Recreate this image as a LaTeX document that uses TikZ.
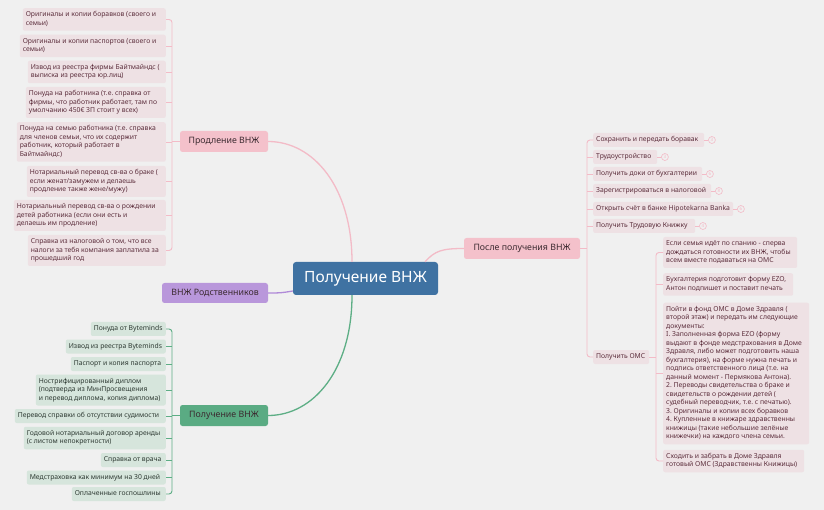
\documentclass[tikz,border=0pt]{standalone}
\usepackage{fontspec}
\setmainfont{Noto Sans}
\frenchspacing
\newcommand{\cbox}[2]{\makebox[#1][l]{\begin{tabular}{@{}l@{}}#2\end{tabular}}}
\definecolor{bgc}{HTML}{F0F0F0}
\definecolor{pline}{HTML}{F3BBC7}
\definecolor{pfill}{HTML}{F4C1CB}
\definecolor{pchildfill}{HTML}{EEE1E4}
\definecolor{ptext}{HTML}{5C2E3C}
\definecolor{partext}{HTML}{3B2A30}
\definecolor{gline}{HTML}{5DAE85}
\definecolor{gfill}{HTML}{5AAB83}
\definecolor{gchildfill}{HTML}{D6E5DC}
\definecolor{gtext}{HTML}{2E3A33}
\definecolor{vline}{HTML}{B08AD8}
\definecolor{vfill}{HTML}{B997DB}
\definecolor{cfill}{HTML}{3F72A2}
\tikzset{
  x=1pt, y=-1pt,
  childbase/.style={rounded corners=2pt, inner xsep=3pt, inner ysep=2.75pt, font=\frenchspacing\fontsize{6.8}{8.5}\selectfont},
  pchild/.style={childbase, fill=pchildfill, text=ptext, anchor=east},
  rchild/.style={childbase, fill=pchildfill, text=ptext, anchor=west},
  gchild/.style={childbase, fill=gchildfill, text=gtext, anchor=east},
  parent/.style={rounded corners=2.5pt, inner sep=0pt, minimum height=21pt, text=partext, font=\fontsize{8.8}{10}\selectfont},
  central/.style={rounded corners=3pt, fill=cfill, text=white, inner sep=0pt, minimum width=145pt, minimum height=33pt, font=\fontsize{15.5}{18}\selectfont},
  pconn/.style={draw=pline, line width=0.9pt},
  gconn/.style={draw=gline, line width=0.9pt},
  bigconn/.style={line width=1.3pt},
  badge/.style={circle, draw=pline, line width=0.6pt, inner sep=0pt, minimum size=7pt, text=pline, font=\fontsize{4.5}{5}\selectfont},
}
\begin{document}
\begin{tikzpicture}
\useasboundingbox (0,0) rectangle (824,510);
\fill[bgc] (0,0) rectangle (824,510);

% central
\node[central] (c) at (365.5,278.5) {Получение ВНЖ};

% parents
\node[parent, fill=pfill, minimum width=88pt] (prod) at (224,141.5) {Продление ВНЖ};
\node[parent, fill=vfill, minimum width=106pt, minimum height=20pt] (rel) at (215,293) {ВНЖ Родственников};
\node[parent, fill=gfill, minimum width=88pt] (gpar) at (224,415.5) {Получение ВНЖ};
\node[parent, fill=pfill, minimum width=116pt] (after) at (522,248.5) {После получения ВНЖ};

% main connectors
\draw[draw=pline, bigconn] ([xshift=-13.5]c.north) .. controls +(0,-75) and +(45,0) .. (prod.east);
\draw[draw=pline, bigconn] ([xshift=59.5]c.north) .. controls +(10,-11) and +(-22,0) .. (after.west);
\draw[draw=gline, bigconn] ([xshift=-13.5]c.south) .. controls +(0,75) and +(45,0) .. (gpar.east);
\draw[draw=vline, bigconn] (rel.east) .. controls +(12,0) and +(-12,2) .. ([yshift=-12.5]c.west);

% left pink children
\node[pchild] (p1) at (166,19.5) {\cbox{137pt}{Оригиналы и копии боравков (своего и\\семьи)}};
\node[pchild] (p2) at (166,46) {\cbox{140pt}{Оригиналы и копии паспортов (своего и\\семьи)}};
\node[pchild] (p3) at (166,72) {\cbox{132pt}{Извод из реестра фирмы Байтмайндс (\\выписка из реестра юр.лиц)}};
\node[pchild] (p4) at (166,102.5) {\cbox{134pt}{Понуда на работника (т.е. справка от\\фирмы, что работник работает, там по\\умолчанию 450€ ЗП стоит у всех)}};
\node[pchild] (p5) at (166,142) {\cbox{143pt}{Понуда на семью работника (т.е. справка\\для членов семьи, что их содержит\\работник, который работает в\\Байтмайндс)}};
\node[pchild] (p6) at (166,181.5) {\cbox{133pt}{Нотариальный перевод св-ва о браке (\\если женат/замужем и делаешь\\продление также жене/мужу)}};
\node[pchild] (p7) at (166,215.5) {\cbox{146pt}{Нотариальный перевод св-ва о рождении\\детей работника (если они есть и\\делаешь им продление)}};
\node[pchild] (p8) at (166,250.5) {\cbox{132pt}{Справка из налоговой о том, что все\\налоги за тебя компания заплатила за\\прошедший год}};

\coordinate (pb) at (172,141.5);
\draw[pconn, rounded corners=3pt] (p1.east) -| (pb) |- (p8.east);
\draw[pconn] (pb) -- (prod.west);
\foreach \n in {p2,p3,p4,p5,p6,p7} \draw[pconn] (\n.east) -- (\n.east -| pb);

% green children
\node[gchild] (g1) at (166,329) {\cbox{69pt}{Понуда от Byteminds}};
\node[gchild] (g2) at (166,346.5) {\cbox{94pt}{Извод из реестра Byteminds}};
\node[gchild] (g3) at (166,364) {\cbox{89pt}{Паспорт и копия паспорта}};
\node[gchild] (g4) at (166,390) {\cbox{124pt}{Нострифицированный диплом\\(подтверда из МинПросвещения\\и перевод диплома, копия диплома)}};
\node[gchild] (g5) at (166,416) {\cbox{145pt}{Перевод справки об отсутствии судимости}};
\node[gchild] (g6) at (166,438) {\cbox{136pt}{Годовой нотариальный договор аренды\\(с листом непокретности)}};
\node[gchild] (g7) at (166,460) {\cbox{59pt}{Справка от врача}};
\node[gchild] (g8) at (166,477.5) {\cbox{133pt}{Медстраховка как минимум на 30 дней}};
\node[gchild] (g9) at (166,494) {\cbox{88pt}{Оплаченные госпошлины}};

\coordinate (gb) at (172,415.5);
\draw[gconn, rounded corners=3pt] (g1.east) -| (gb) |- (g9.east);
\draw[gconn] (gb) -- (gpar.west);
\foreach \n in {g2,g3,g4,g5,g6,g7,g8} \draw[gconn] (\n.east) -- (\n.east -| gb);

% right children
\node[rchild] (r1) at (593,140) {\cbox{105pt}{Сохранить и передать боравак}};
\node[rchild] (r2) at (593,157) {\cbox{58pt}{Трудоустройство}};
\node[rchild] (r3) at (593,174) {\cbox{103pt}{Получить доки от бухгалтерии}};
\node[rchild] (r4) at (593,191) {\cbox{112pt}{Зарегистрироваться в налоговой}};
\node[rchild] (r5) at (593,209) {\cbox{134pt}{Открыть счёт в банке Hipotekarna Banka}};
\node[rchild] (r6) at (593,226) {\cbox{96pt}{Получить Трудовую Книжку}};
\node[rchild] (r7) at (593,357) {\cbox{50pt}{Получить ОМС}};

\coordinate (rb) at (587,248.5);
\draw[pconn, rounded corners=3pt] (r1.west) -| (rb) |- (r7.west);
\draw[pconn] (after.east) -- (rb);
\foreach \n in {r2,r3,r4,r5,r6} \draw[pconn] (\n.west) -- (\n.west -| rb);

% badges
\foreach \n/\v in {r1/3,r2/3,r3/6,r4/8,r5/6,r6/4} {
  \node[badge] (b\n) at ([xshift=7.5]\n.east) {\v};
  \draw[draw=pline, line width=0.6pt] (\n.east) -- (b\n.west);
}

% OMS children
\node[rchild] (o1) at (663,252.5) {\cbox{128pt}{Если семья идёт по спанию - сперва\\дождаться готовности их ВНЖ, чтобы\\всем вместе подаваться на ОМС}};
\node[rchild] (o2) at (663,284.5) {\cbox{124pt}{Бухгалтерия подготовит форму EZO,\\Антон подпишет и поставит печать}};
\node[rchild] (o3) at (663,373.5) {\cbox{140pt}{Пойти в фонд ОМС в Доме Здравля (\\второй этаж) и передать им следующие\\документы:\\I. Заполненная форма EZO (форму\\выдают в фонде медстрахования в Доме\\Здравля, либо может подготовить наша\\бухгалтерия), на форме нужна печать и\\подпись ответственного лица (т.е. на\\данный момент - Пермякова Антона).\\2. Переводы свидетельства о браке и\\свидетельств о рождении детей (\\судебный переводчик, т.е. с печатью).\\3. Оригиналы и копии всех боравков\\4. Купленные в книжаре здравственны\\книжицы (такие небольшие зелёные\\книжечки) на каждого члена семьи.}};
\node[rchild] (o4) at (663,461) {\cbox{135pt}{Сходить и забрать в Доме Здравля\\готовый ОМС (Здравственны Книжицы)}};

\coordinate (ob) at (656,357);
\draw[pconn, rounded corners=3pt] (o1.west) -| (ob) |- (o4.west);
\draw[pconn] (r7.east) -- (ob);
\foreach \n in {o2,o3} \draw[pconn] (\n.west) -- (\n.west -| ob);
\end{tikzpicture}
\end{document}
